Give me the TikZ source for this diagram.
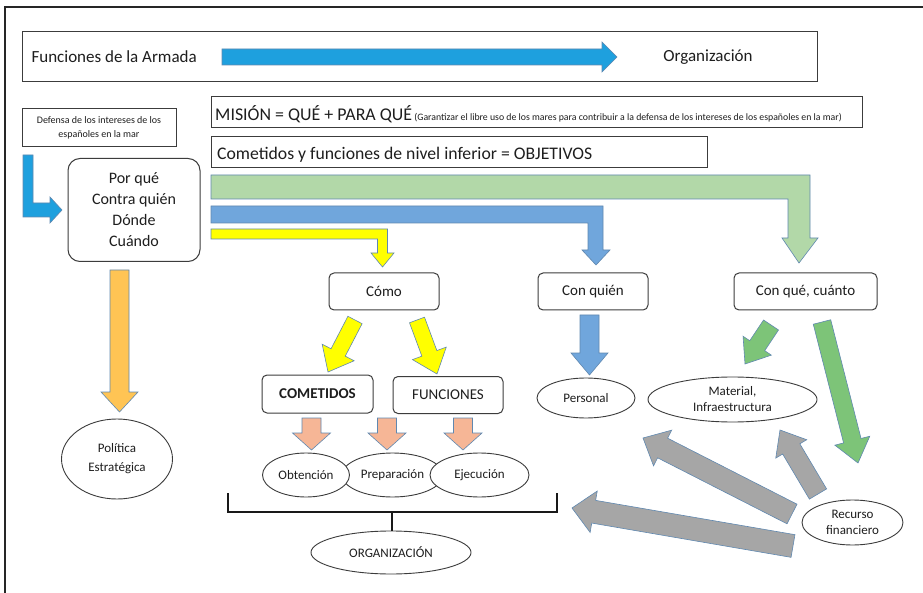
\documentclass[tikz,border=0pt]{standalone}
\usepackage{fontspec}
\setmainfont{Carlito}
\usetikzlibrary{calc,shapes.geometric}
\definecolor{cyanA}{RGB}{30,160,222}
\definecolor{greenB}{RGB}{178,216,168}
\definecolor{blueB}{RGB}{112,166,220}
\definecolor{yellowB}{RGB}{255,255,0}
\definecolor{orangeB}{RGB}{255,196,84}
\definecolor{salmonB}{RGB}{246,182,150}
\definecolor{greenC}{RGB}{125,196,120}
\definecolor{grayB}{RGB}{166,166,166}
\definecolor{outl}{RGB}{96,136,176}
\definecolor{txt}{RGB}{30,30,30}
\definecolor{boxline}{RGB}{60,60,60}
\newcommand\fsz[2]{\fontsize{#1}{#2}\selectfont}
\newcommand\blockarrow[6]{%
  \filldraw[#1] ($(#2)!#4!90:(#3)$) -- ($(#3)!#6!(#2)!#4!90:(#3)$) -- ($(#3)!#6!(#2)!#5!90:(#3)$) -- (#3)
   -- ($(#3)!#6!(#2)!#5!-90:(#3)$) -- ($(#3)!#6!(#2)!#4!-90:(#3)$) -- ($(#2)!#4!-90:(#3)$) -- cycle;}
\begin{document}
\begin{tikzpicture}[x=1pt,y=-1pt,
  every node/.style={text=txt},
  box/.style={draw=boxline, line width=1pt, fill=white, inner sep=0pt},
  rbox/.style={box, rounded corners=5pt},
  ell/.style={draw=boxline, line width=0.9pt, fill=white, ellipse, inner sep=0pt, align=center},
  arr/.style={draw=outl, line width=0.6pt, line join=miter},
]
\fill[white] (0,0) rectangle (923,593);
\useasboundingbox (0,0) rectangle (923,593);
\draw[line width=1.2pt, black!85] (5,593) -- (5,7) -- (923,7);

% top box
\node[box, minimum width=795pt, minimum height=50pt] (top) at (419.5,57) {};
\node[anchor=west, font=\fsz{17}{20}] (fa) at (28,57) {Funciones de la Armada};
\node[font=\fsz{17}{20}] (org0) at (708,57) {Organización};
\coordinate (ta1) at (222,57);
\coordinate (ta2) at (617,57);
\blockarrow{arr, fill=cyanA}{ta1}{ta2}{8pt}{15pt}{15pt}

% mission and objectives
\node[box, minimum width=651pt, minimum height=31pt] (mis) at (536.5,112.5) {};
\node[anchor=base west, inner sep=0pt] (mist) at (215,121) {{\fsz{17.9}{22}MISIÓN = QUÉ + PARA QUÉ} {\fsz{9.8}{10}(Garantizar el libre uso de los mares para contribuir a la defensa de los intereses de los españoles en la mar)}};
\node[box, minimum width=496pt, minimum height=31pt] (obj) at (459,152.5) {};
\node[anchor=base west, inner sep=0pt, font=\fsz{17.7}{22}] (objt) at (217,159.5) {Cometidos y funciones de nivel inferior = OBJETIVOS};

% defensa box
\node[box, minimum width=154pt, minimum height=38pt, align=center, font=\fsz{10}{14}] (def) at (99,128) {Defensa de los intereses de los\\españoles en la mar};

% bent band arrows
\filldraw[arr, fill=greenB] (211,175) -- (810,175) -- (810,238) -- (818,238) -- (799,263) -- (782,238) -- (788,238) -- (788,199) -- (211,199) -- cycle;
\filldraw[arr, fill=blueB] (211,206) -- (603,206) -- (603,250) -- (610,250) -- (596,265) -- (582,250) -- (588,250) -- (588,223) -- (211,223) -- cycle;
\filldraw[arr, fill=yellowB] (211,229) -- (387.5,229) -- (387.5,253) -- (394,253) -- (382.5,267) -- (371,253) -- (377.5,253) -- (377.5,239) -- (211,239) -- cycle;
\filldraw[arr, fill=cyanA] (23,155) -- (33,155) -- (33,203) -- (50,203) -- (50,197) -- (62,210) -- (50,223) -- (50,217) -- (23,217) -- cycle;

% por que
\node[box, rounded corners=12pt, minimum width=132pt, minimum height=103pt, align=center, font=\fsz{16}{21}] (pq) at (134,210) {Por qué\\Contra quién\\Dónde\\Cuándo};

% orange
\coordinate (or1) at (119.5,270);
\coordinate (or2) at (119.5,412);
\blockarrow{arr, fill=orangeB}{or1}{or2}{9.5pt}{18.5pt}{20pt}
\node[ell, minimum width=111pt, minimum height=80pt, font=\fsz{13}{19}] (pol) at (117,459) {Política\\Estratégica};

% second level boxes
\node[rbox, minimum width=110pt, minimum height=37pt, font=\fsz{15}{18}] (como) at (384,291.5) {Cómo};
\node[rbox, minimum width=110pt, minimum height=37pt, font=\fsz{15}{18}] (cq) at (593,291.5) {Con quién};
\node[rbox, minimum width=143pt, minimum height=37pt, font=\fsz{15}{18}] (cqc) at (805.5,291.5) {Con qué, cuánto};

% yellow diagonal arrows
\coordinate (y1a) at (355,320);
\coordinate (y1b) at (328,372);
\coordinate (y2a) at (417,320);
\coordinate (y2b) at (437,374);
\blockarrow{arr, fill=yellowB}{y1a}{y1b}{8pt}{18pt}{22pt}
\blockarrow{arr, fill=yellowB}{y2a}{y2b}{8pt}{18pt}{22pt}

\node[rbox, minimum width=111pt, minimum height=38pt, font=\fsz{15}{18}\bfseries] (com) at (317.5,394) {COMETIDOS};
\node[rbox, minimum width=110pt, minimum height=37pt, font=\fsz{15}{18}] (fun) at (448,395) {FUNCIONES};

% salmon arrows
\coordinate (s1a) at (311.5,418);
\coordinate (s1b) at (311.5,450);
\coordinate (s2a) at (387,418);
\coordinate (s2b) at (387,450);
\coordinate (s3a) at (463,418);
\coordinate (s3b) at (463,450);
\blockarrow{arr, fill=salmonB}{s1a}{s1b}{9.5pt}{19pt}{17pt}
\blockarrow{arr, fill=salmonB}{s2a}{s2b}{9.5pt}{19pt}{17pt}
\blockarrow{arr, fill=salmonB}{s3a}{s3b}{9.5pt}{19pt}{17pt}

\node[ell, minimum width=101pt, minimum height=44pt, font=\fsz{13}{16}] (prep) at (392.5,475) {Preparación};
\node[ell, minimum width=87pt, minimum height=44pt, font=\fsz{13}{16}] (obt) at (306,475) {Obtención};
\node[ell, minimum width=99pt, minimum height=44pt, font=\fsz{13}{16}] (eje) at (479.5,475) {Ejecución};

% bracket
\draw[line width=2.2pt, black!90] (228,493) -- (228,512) -- (557,512) -- (557,493);
\coordinate (brk) at (392,512);
\node[ell, minimum width=160pt, minimum height=43pt, font=\fsz{13}{16}] (orgn) at (391,552.5) {ORGANIZACIÓN};
\draw[line width=2.2pt, black!90] (brk) -- (brk |- orgn.north);

% con quien branch
\coordinate (b1a) at (589.5,315);
\coordinate (b1b) at (589.5,375);
\blockarrow{arr, fill=blueB}{b1a}{b1b}{9.5pt}{18.5pt}{22pt}
\node[ell, minimum width=98pt, minimum height=40pt, font=\fsz{13}{16}] (pers) at (586,398) {Personal};

% con que branch
\coordinate (g1a) at (771,325);
\coordinate (g1b) at (745,364);
\coordinate (g2a) at (822,322);
\coordinate (g2b) at (858,463);
\blockarrow{arr, fill=greenC}{g1a}{g1b}{9pt}{17pt}{22pt}
\blockarrow{arr, fill=greenC}{g2a}{g2b}{9pt}{18pt}{23pt}
\node[ell, minimum width=169pt, minimum height=45pt, font=\fsz{13}{16}] (mat) at (732.5,399.5) {Material,\\Infraestructura};
\node[ell, minimum width=101pt, minimum height=45pt, font=\fsz{13}{16}] (rec) at (852.5,522.5) {Recurso\\financiero};

% gray arrows
\coordinate (gr1a) at (793,546);
\coordinate (gr1b) at (572,508);
\coordinate (gr2a) at (792,514);
\coordinate (gr2b) at (643,438);
\coordinate (gr3a) at (818,494);
\coordinate (gr3b) at (780,430);
\blockarrow{arr, fill=grayB}{gr1a}{gr1b}{11.5pt}{21pt}{22pt}
\blockarrow{arr, fill=grayB}{gr2a}{gr2b}{11pt}{20pt}{22pt}
\blockarrow{arr, fill=grayB}{gr3a}{gr3b}{10pt}{18pt}{22pt}
\end{tikzpicture}
\end{document}
